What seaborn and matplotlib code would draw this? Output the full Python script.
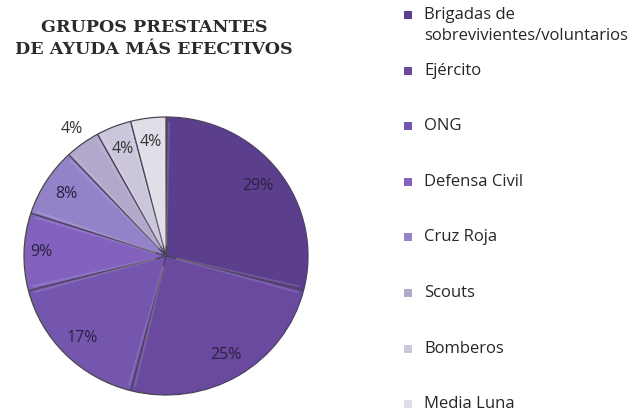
import numpy as np
import matplotlib
matplotlib.use("Agg")
import matplotlib.pyplot as plt
from matplotlib.patches import Rectangle
import seaborn as sns

# Data: most effective aid groups (share of mentions, %)
grupos = [
    "Brigadas de\nsobrevivientes/voluntarios",
    "Ejército",
    "ONG",
    "Defensa Civil",
    "Cruz Roja",
    "Scouts",
    "Bomberos",
    "Media Luna",
]
porcentajes = [29, 25, 17, 9, 8, 4, 4, 4]

# Purple sequence, dark to light
colores = sns.color_palette([
    "#5b3f8d", "#6a4a9f", "#7556ae", "#8262bd",
    "#9482c8", "#b1a8cc", "#ccc6da", "#e1dee7",
])

# Distance of each percentage label from the centre (fraction of radius)
dist_etiqueta = [0.82, 0.83, 0.83, 0.88, 0.83, 1.13, 0.83, 0.83]

sns.set_theme(style="white")
plt.rcParams["font.family"] = ["Open Sans", "DejaVu Sans"]

W, H = 637, 413
fig = plt.figure(figsize=(W / 100, H / 100), dpi=100)
fig.patch.set_facecolor("white")

# Pie area in pixel terms: centre (166, 256), radii 142 x 139
cx, cy, rx, ry = 166, 256, 142, 139
ax = fig.add_axes([(cx - rx) / W, (H - cy - ry) / H, 2 * rx / W, 2 * ry / H])

wedges, _ = ax.pie(
    porcentajes,
    colors=colores,
    startangle=90,
    counterclock=False,
    radius=1.0,
    wedgeprops=dict(edgecolor="#4a4458", linewidth=0.9),
)
ax.set_aspect("auto")
ax.set_xlim(-1, 1)
ax.set_ylim(-1, 1)
ax.axis("off")

# Faint light stripe beside each radial edge for a bevelled look
for w in wedges:
    for th in (w.theta1 + 1.3, w.theta2 - 1.3):
        a = np.deg2rad(th)
        ax.plot([0.08 * np.cos(a), 0.96 * np.cos(a)],
                [0.08 * np.sin(a), 0.96 * np.sin(a)],
                color=(1, 1, 1, 0.12), linewidth=1.4, solid_capstyle="round")

# Percentage labels placed at each wedge's mid-angle
for w, pct, d in zip(wedges, porcentajes, dist_etiqueta):
    ang = np.deg2rad((w.theta1 + w.theta2) / 2)
    x, y = d * np.cos(ang), d * np.sin(ang)
    color = "#2a2142" if pct > 4 else "#363636"
    ax.text(x, y, f"{pct}%", ha="center", va="center",
            fontsize=11.5, color=color)

# Title
for texto, ypx in (("GRUPOS PRESTANTES", 28), ("DE AYUDA MÁS EFECTIVOS", 50)):
    fig.text(154 / W, 1 - ypx / H, texto,
             ha="center", va="center", fontsize=12.6, fontweight="bold",
             family="DejaVu Serif", color="#2b2b2b")

# Legend, evenly spaced entries on the right
y0, paso, interlinea = 15, 55.6, 21
for i, (g, c) in enumerate(zip(grupos, colores)):
    yp = y0 + i * paso
    fig.add_artist(Rectangle(((408 - 4) / W, 1 - (yp + 4) / H), 8 / W, 8 / H,
                             transform=fig.transFigure, facecolor=c,
                             edgecolor="none"))
    for k, linea in enumerate(g.split("\n")):
        fig.text(424 / W, 1 - (yp + k * interlinea) / H, linea,
                 ha="left", va="center", fontsize=12, color="#262626")

fig.savefig("out.png", dpi=100, facecolor="white")
